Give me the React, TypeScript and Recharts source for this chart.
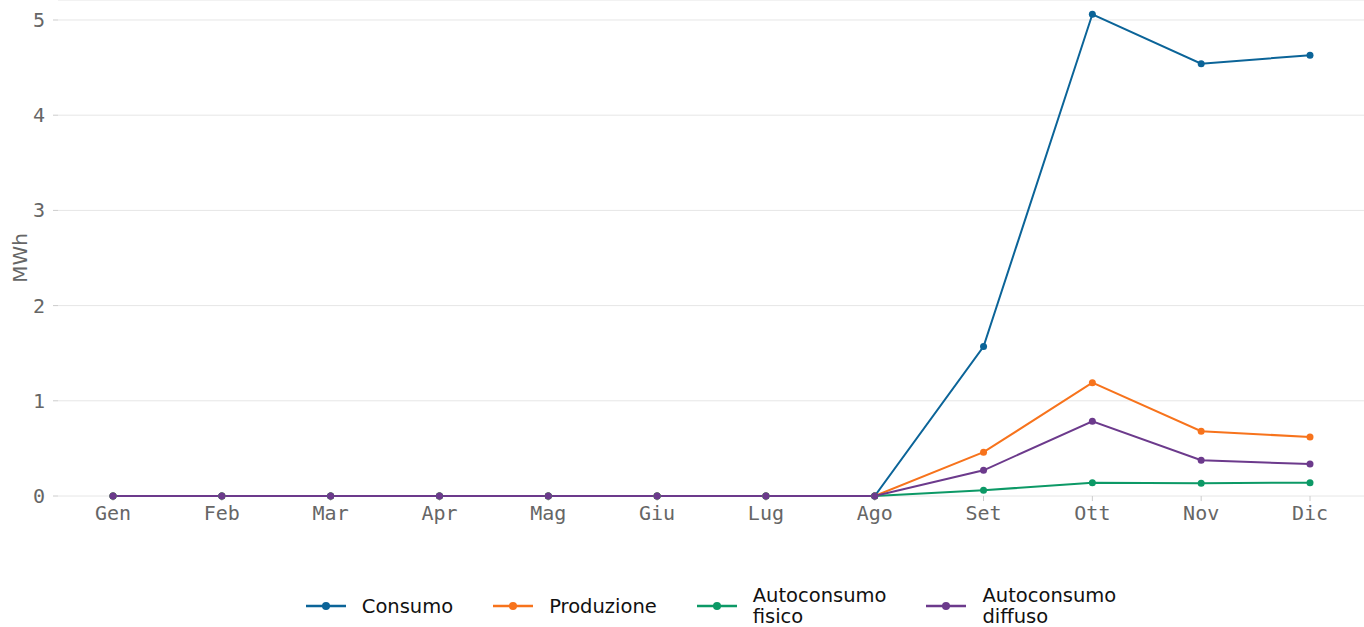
import { CartesianGrid, Line, LineChart, XAxis, YAxis } from 'recharts'

const months = ['Gen', 'Feb', 'Mar', 'Apr', 'Mag', 'Giu', 'Lug', 'Ago', 'Set', 'Ott', 'Nov', 'Dic']
const consumo = [0, 0, 0, 0, 0, 0, 0, 0, 1.57, 5.06, 4.54, 4.63]
const produzione = [0, 0, 0, 0, 0, 0, 0, 0, 0.46, 1.19, 0.68, 0.62]
const autoconsumoFisico = [0, 0, 0, 0, 0, 0, 0, 0, 0.06, 0.14, 0.135, 0.14]
const autoconsumoDiffuso = [0, 0, 0, 0, 0, 0, 0, 0, 0.27, 0.785, 0.375, 0.335]
const yTicks = [0, 1, 2, 3, 4, 5]

const series = [
    { key: 'consumo', label: ['Consumo'], color: '#0b6498' },
    { key: 'produzione', label: ['Produzione'], color: '#f7731c' },
    { key: 'fisico', label: ['Autoconsumo', 'fisico'], color: '#0c9966' },
    { key: 'diffuso', label: ['Autoconsumo', 'diffuso'], color: '#6c3a8c' }
]

const data = months.map((month, i) => ({
    month,
    consumo: consumo[i],
    produzione: produzione[i],
    fisico: autoconsumoFisico[i],
    diffuso: autoconsumoDiffuso[i]
}))

const mono = '"DejaVu Sans Mono", monospace'
const sans = '"DejaVu Sans", sans-serif'

function YLabel({ viewBox }: any) {
    const x = viewBox.x + 20
    const y = viewBox.y + viewBox.height / 2 + 10
    return (
        <text
            x={x}
            y={y}
            transform={`rotate(-90 ${x} ${y})`}
            textAnchor='middle'
            dominantBaseline='central'
            fill='#666'
            fontSize={20}
            fontFamily={sans}
        >
            MWh
        </text>
    )
}

function Legend() {
    return (
        <div
            style={{
                position: 'absolute',
                top: 585,
                left: 0,
                width: 1364,
                display: 'flex',
                justifyContent: 'center',
                paddingLeft: 58,
                boxSizing: 'border-box',
                gap: 40,
                fontFamily: sans,
                fontSize: 19.5,
                color: '#111'
            }}
        >
            {series.map((s) => (
                <div key={s.key} style={{ display: 'flex', alignItems: 'center', gap: 16 }}>
                    <svg width={40} height={12}>
                        <line x1={0} x2={40} y1={6} y2={6} stroke={s.color} strokeWidth={2.5} />
                        <circle cx={20} cy={6} r={4} fill={s.color} />
                    </svg>
                    <div style={{ lineHeight: '21px' }}>
                        {s.label.map((l) => (
                            <div key={l}>{l}</div>
                        ))}
                    </div>
                </div>
            ))}
        </div>
    )
}

export default function App() {
    return (
        <div style={{ position: 'absolute', top: 0, left: 0, width: 1364, height: 627, background: '#fff' }}>
            <LineChart width={1364} height={560} data={data} margin={{ top: 0, right: 0, bottom: 0, left: 0 }}>
                <CartesianGrid vertical={false} stroke='#e6e6e6' />
                <XAxis
                    dataKey='month'
                    height={64}
                    padding={{ left: 55, right: 54 }}
                    axisLine={false}
                    tickSize={5}
                    tickMargin={5}
                    tickLine={{ stroke: '#ccc' }}
                    tick={{ fill: '#666', fontSize: 20, fontFamily: mono }}
                    interval={0}
                />
                <YAxis
                    width={58}
                    domain={[0, 5.21]}
                    ticks={yTicks}
                    axisLine={false}
                    tickSize={5}
                    tickMargin={8}
                    tickLine={{ stroke: '#ccc' }}
                    tick={{ fill: '#666', fontSize: 20, fontFamily: mono }}
                    label={<YLabel />}
                />
                {series.map((s) => (
                    <Line
                        key={s.key}
                        dataKey={s.key}
                        type='linear'
                        stroke={s.color}
                        strokeWidth={2}
                        dot={{ r: 3.5, fill: s.color, stroke: s.color, strokeWidth: 0 }}
                        activeDot={false}
                        isAnimationActive={false}
                    />
                ))}
            </LineChart>
            <Legend />
        </div>
    )
}
